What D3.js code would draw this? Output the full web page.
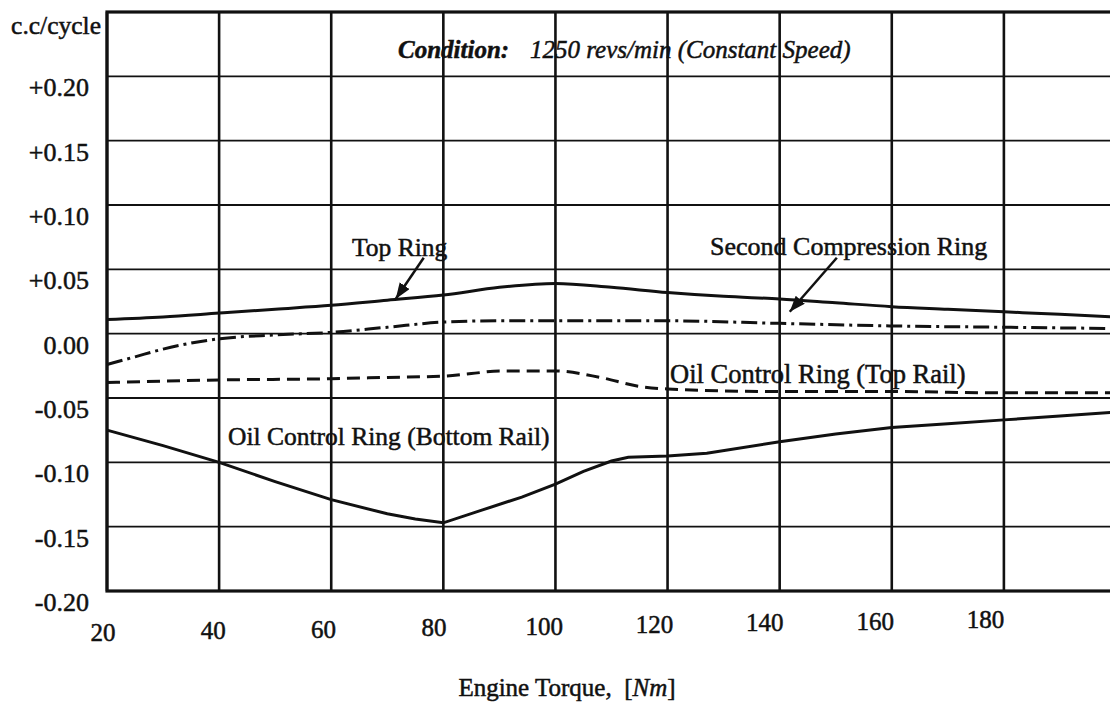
<!DOCTYPE html>
<html>
<head>
<meta charset="utf-8">
<script src="https://cdn.jsdelivr.net/npm/d3@7"></script>
<style>
  body { margin: 0; background: #fff; }
  svg text { font-family: "Liberation Serif", "Times New Roman", serif; fill: #111; stroke: #111; stroke-width: 0.5; }
</style>
</head>
<body>
<div id="chart"></div>
<script>
// ring oil flow vs engine torque (1250 rev/min)
var torqueTicks = [20, 40, 60, 80, 100, 120, 140, 160, 180];
var ccTicks = [0.20, 0.15, 0.10, 0.05, 0.00, -0.05, -0.10, -0.15, -0.20];
var ccTickLabels = ["+0.20", "+0.15", "+0.10", "+0.05", "0.00", "-0.05", "-0.10", "-0.15", "-0.20"];

var topRingTorque = [20, 30, 40, 50, 60, 70, 80, 90, 100, 110, 120, 130, 140, 150, 160, 170, 180, 190, 200];
var topRingCc     = [0.011, 0.013, 0.016, 0.019, 0.022, 0.026, 0.030, 0.036, 0.039, 0.036, 0.032, 0.029, 0.027, 0.024, 0.021, 0.019, 0.017, 0.015, 0.013];

var secondTorque = [20, 25, 30, 40, 50, 60, 70, 80, 90, 100, 120, 140, 160, 180, 200];
var secondCc     = [-0.024, -0.018, -0.012, -0.004, -0.001, 0.001, 0.005, 0.009, 0.010, 0.010, 0.010, 0.008, 0.006, 0.005, 0.004];

var topRailTorque = [20, 40, 60, 70, 80, 85, 90, 100, 108, 115, 120, 140, 160, 180, 200];
var topRailCc     = [-0.038, -0.036, -0.035, -0.034, -0.033, -0.031, -0.029, -0.029, -0.034, -0.041, -0.043, -0.045, -0.045, -0.046, -0.046];

var bottomRailTorque = [20, 30, 40, 50, 60, 70, 75, 80, 87, 94, 100, 105, 110, 113, 120, 127, 140, 150, 160, 170, 180, 190, 200];
var bottomRailCc     = [-0.075, -0.087, -0.100, -0.115, -0.129, -0.140, -0.144, -0.147, -0.137, -0.127, -0.117, -0.107, -0.099, -0.096, -0.095, -0.093, -0.084, -0.078, -0.073, -0.070, -0.067, -0.064, -0.061];

var width = 1110, height = 705;

var svg = d3.select("#chart")
  .append("svg")
    .attr("width", width)
    .attr("height", height);

var x = d3.scaleLinear().domain([20, 200]).range([107, 1116]);
var y = d3.scaleLinear().domain([-0.20, 0.25]).range([591, 12]);

// grid
svg.append("g")
  .selectAll("line")
  .data(ccTicks)
  .enter()
  .append("line")
    .attr("x1", x(20)).attr("x2", x(200))
    .attr("y1", function(d) { return y(d); })
    .attr("y2", function(d) { return y(d); })
    .attr("stroke", "#111")
    .attr("stroke-width", 1.8);

svg.append("g")
  .selectAll("line")
  .data(torqueTicks)
  .enter()
  .append("line")
    .attr("x1", function(d) { return x(d); })
    .attr("x2", function(d) { return x(d); })
    .attr("y1", y(0.25)).attr("y2", y(-0.20))
    .attr("stroke", "#111")
    .attr("stroke-width", 2.6);

// frame
svg.append("rect")
  .attr("x", x(20)).attr("y", y(0.25))
  .attr("width", x(200) - x(20))
  .attr("height", y(-0.20) - y(0.25))
  .attr("fill", "none")
  .attr("stroke", "#111")
  .attr("stroke-width", 3.2);

// tick labels
svg.append("g")
  .selectAll("text")
  .data(ccTicks)
  .enter()
  .append("text")
    .attr("x", 89)
    .attr("y", function(d) { return y(d) + 20; })
    .attr("text-anchor", "end")
    .style("font-size", "26px")
    .text(function(d, i) { return ccTickLabels[i]; });

svg.append("g")
  .selectAll("text")
  .data(torqueTicks)
  .enter()
  .append("text")
    .attr("x", function(d) { return x(d) - 4 - (d - 20) * 0.09; })
    .attr("y", function(d) { return 641 - (d - 20) * 0.08; })
    .attr("text-anchor", "middle")
    .style("font-size", "25px")
    .text(function(d) { return d; });

svg.append("text")
  .attr("x", 101).attr("y", 34)
  .attr("text-anchor", "end")
  .style("font-size", "25.5px")
  .text("c.c/cycle");

var xt = svg.append("text")
  .attr("x", 567).attr("y", 696)
  .attr("text-anchor", "middle")
  .style("font-size", "25px");
xt.append("tspan").text("Engine Torque,\u00a0 [");
xt.append("tspan").style("font-style", "italic").text("Nm");
xt.append("tspan").text("]");

// curves
var line = d3.line()
  .x(function(d) { return x(d[0]); })
  .y(function(d) { return y(d[1]); });

function drawCurve(tq, cc, dash, curve) {
  svg.append("path")
    .datum(d3.zip(tq, cc))
    .attr("fill", "none")
    .attr("stroke", "#111")
    .attr("stroke-width", 3)
    .attr("stroke-dasharray", dash)
    .attr("d", line.curve(curve));
}

drawCurve(topRingTorque, topRingCc, null, d3.curveMonotoneX);
drawCurve(secondTorque, secondCc, "16,5,3,5", d3.curveMonotoneX);
drawCurve(topRailTorque, topRailCc, "13,7", d3.curveMonotoneX);
drawCurve(bottomRailTorque, bottomRailCc, null, d3.curveLinear);

// annotations
svg.append("defs").append("marker")
  .attr("id", "head")
  .attr("markerUnits", "userSpaceOnUse")
  .attr("markerWidth", 18).attr("markerHeight", 14)
  .attr("refX", 16).attr("refY", 6)
  .attr("orient", "auto")
  .append("path")
    .attr("d", "M0,0 L16,6 L0,12 Z")
    .attr("fill", "#111");

function arrow(t0, c0, t1, c1) {
  svg.append("line")
    .attr("x1", x(t0)).attr("y1", y(c0))
    .attr("x2", x(t1)).attr("y2", y(c1))
    .attr("stroke", "#111")
    .attr("stroke-width", 2.5)
    .attr("marker-end", "url(#head)");
}
arrow(76.5, 0.059, 71.5, 0.027);
arrow(150.2, 0.059, 141.8, 0.017);

var cond = svg.append("text")
  .attr("y", 58)
  .style("font-size", "25px")
  .style("font-style", "italic");
cond.append("tspan").attr("x", 398).style("font-weight", "bold").text("Condition:");
cond.append("tspan").attr("x", 530).text("1250 revs/min (Constant Speed)");

function label(txt, lx, ly, size) {
  svg.append("text")
    .attr("x", lx).attr("y", ly)
    .style("font-size", size + "px")
    .text(txt);
}
label("Top Ring", 352, 256, 25.5);
label("Second Compression Ring", 710, 255, 26);
label("Oil Control Ring (Top Rail)", 670, 383, 26.5);
label("Oil Control Ring (Bottom Rail)", 228, 445, 25.5);
</script>
</body>
</html>
